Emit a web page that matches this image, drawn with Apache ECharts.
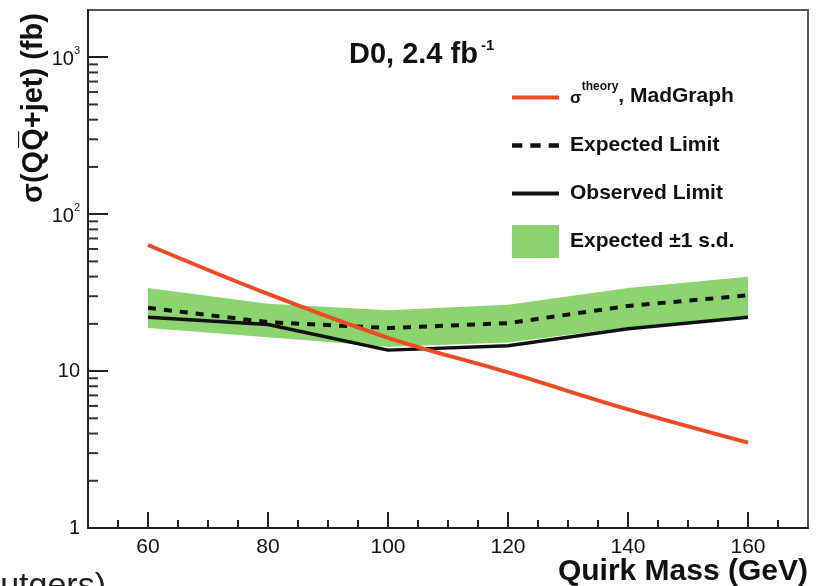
<!DOCTYPE html>
<html>
<head>
<meta charset="utf-8">
<script src="https://cdn.jsdelivr.net/npm/echarts@6/dist/echarts.min.js"></script>
<style>
html,body{margin:0;padding:0;background:#fff;}
#c{width:821px;height:586px;}
</style>
</head>
<body>
<div id="c"></div>
<script>
// ---- data ----
var mass = [60, 80, 100, 120, 140, 160];
var theory = [63.6, 31.0, 16.3, 9.8, 5.7, 3.5];
var expected = [25.3, 20.5, 18.8, 20.2, 26.0, 30.4];
var observed = [22.0, 19.8, 13.6, 14.5, 18.6, 22.0];
var bandLow = [18.8, 16.4, 14.3, 15.2, 19.0, 22.5];
var bandHigh = [33.9, 26.9, 24.4, 26.5, 33.8, 39.9];
var xTickLabels = [60, 80, 100, 120, 140, 160];
var yMinorTicks = [2,3,4,5,6,7,8,9,20,30,40,50,60,70,80,90,200,300,400,500,600,700,800,900];

var FONT = 'Liberation Sans, Arial, Helvetica, sans-serif';
var chart = echarts.init(document.getElementById('c'), null, {renderer: 'canvas'});

function pairs(ys) { return mass.map(function (m, i) { return [m, ys[i]]; }); }

var SOLID_ICON = 'path://M0,0H47V4H0Z';
var DASH_ICON = 'path://M0,0H9V4H0Z M16,0H25V4H16Z M32,0H41V4H32Z';

var option = {
  animation: false,
  backgroundColor: '#fff',
  title: {
    text: '{a|D0, 2.4 fb}{s|-1}',
    left: 344, top: 33,
    textStyle: {
      fontFamily: FONT,
      rich: {
        a: {fontSize: 29, fontWeight: 'bold', color: '#111', fontFamily: FONT, lineHeight: 33},
        s: {fontSize: 15, fontWeight: 'bold', color: '#111', fontFamily: FONT, verticalAlign: 'top', lineHeight: 15, padding: [0, 0, 0, 3]}
      }
    }
  },
  legend: {
    orient: 'vertical',
    left: 507, top: 76,
    itemWidth: 47, itemHeight: 33, itemGap: 15,
    data: [
      {name: 'theory', icon: SOLID_ICON},
      {name: 'Expected Limit', icon: DASH_ICON},
      {name: 'Observed Limit', icon: SOLID_ICON},
      {name: 'Expected \u00b11 s.d.', icon: 'rect'}
    ],
    formatter: function (name) {
      if (name === 'theory') return '{s|\u03c3}{t|theory}{m|, MadGraph}';
      return name;
    },
    textStyle: {
      fontFamily: FONT, fontSize: 21, fontWeight: 'bold', color: '#111',
      lineHeight: 33, height: 33,
      padding: [0, 0, 0, 6],
      rich: {
        s: {fontSize: 17, fontFamily: FONT, color: '#111', verticalAlign: 'bottom', lineHeight: 26},
        t: {fontSize: 12, fontFamily: FONT, color: '#111', verticalAlign: 'top', lineHeight: 26},
        m: {fontSize: 21, fontWeight: 'bold', fontFamily: FONT, color: '#111', verticalAlign: 'bottom', lineHeight: 26}
      }
    }
  },
  grid: {
    left: 88, right: 13, top: 10, bottom: 58,
    outerBoundsMode: 'none', containLabel: false,
    show: true, borderColor: '#555', borderWidth: 2, backgroundColor: '#fff'
  },
  xAxis: {
    type: 'value', min: 50, max: 170, interval: 5,
    axisLine: {show: true, onZero: false, lineStyle: {color: '#222', width: 2}},
    axisTick: {show: true, inside: true, length: 8, lineStyle: {color: '#222', width: 2}},
    splitLine: {show: false},
    axisLabel: {
      margin: 9, fontFamily: FONT, fontSize: 21, color: '#111',
      showMinLabel: false, showMaxLabel: false,
      formatter: function (v) { return xTickLabels.indexOf(v) >= 0 ? String(v) : ''; }
    }
  },
  yAxis: {
    type: 'log', logBase: 10, min: 1, max: 2000, interval: 1,
    axisLine: {show: true, lineStyle: {color: '#222', width: 2}},
    axisTick: {show: true, inside: true, length: 20, lineStyle: {color: '#222', width: 2}},
    splitLine: {show: false},
    axisLabel: {
      margin: 8, fontFamily: FONT, fontSize: 20, color: '#111', showMaxLabel: false,
      formatter: function (v) {
        var e = Math.round(Math.log(v) / Math.LN10);
        if (e === 0) return '1';
        if (e === 1) return '10';
        return '{b|10}{e|' + e + '}';
      },
      rich: {
        b: {fontFamily: FONT, fontSize: 20, color: '#111', verticalAlign: 'bottom', lineHeight: 24},
        e: {fontFamily: FONT, fontSize: 11, color: '#111', verticalAlign: 'top', lineHeight: 24}
      }
    }
  },
  graphic: [
    {
      type: 'text', x: 34, y: 108, rotation: Math.PI / 2,
      style: {
        text: '\u03c3(QQ\u0305+jet) (fb)',
        fontFamily: FONT, fontSize: 29, fontWeight: 'bold', fill: '#111',
        textAlign: 'center', textVerticalAlign: 'middle'
      }
    },
    {
      type: 'text', x: 808, y: 572,
      style: {
        text: 'Quirk Mass (GeV)',
        fontFamily: FONT, fontSize: 30, fontWeight: 'bold', fill: '#111',
        textAlign: 'right', textVerticalAlign: 'middle'
      }
    },
    {
      type: 'text', x: 106, y: 570,
      style: {
        text: 'Rutgers)', fontFamily: FONT, fontSize: 34, fill: '#222',
        textAlign: 'right', textVerticalAlign: 'top'
      }
    }
  ],
  series: [
    {
      type: 'custom', name: 'Expected \u00b11 s.d.', coordinateSystem: 'cartesian2d',
      z: 1, silent: true,
      itemStyle: {color: '#8bd470'},
      encode: {x: 0, y: [1, 2]},
      data: mass.map(function (m, i) { return [m, bandLow[i], bandHigh[i]]; }),
      renderItem: function (params, api) {
        if (params.dataIndex !== 0) return null;
        var pts = [], i;
        for (i = 0; i < mass.length; i++) pts.push(api.coord([mass[i], bandHigh[i]]));
        for (i = mass.length - 1; i >= 0; i--) pts.push(api.coord([mass[i], bandLow[i]]));
        return {type: 'polygon', shape: {points: pts}, style: {fill: '#8bd470'}};
      }
    },
    {
      type: 'line', name: 'theory', data: pairs(theory), smooth: 0.35,
      symbol: 'none', z: 4,
      itemStyle: {color: '#ef4a24'},
      lineStyle: {color: '#ef4a24', width: 4}
    },
    {
      type: 'line', name: 'Expected Limit', data: pairs(expected),
      symbol: 'none', z: 3,
      itemStyle: {color: '#111'},
      lineStyle: {color: '#111', width: 4, type: [8, 8]}
    },
    {
      type: 'line', name: 'Observed Limit', data: pairs(observed),
      symbol: 'none', z: 3,
      itemStyle: {color: '#111'},
      lineStyle: {color: '#111', width: 3.5}
    },
    {
      type: 'custom', name: 'yMinor', silent: true, z: 5,
      data: yMinorTicks.map(function (v) { return [50, v]; }),
      renderItem: function (params, api) {
        var p = api.coord([50, api.value(1)]);
        return {type: 'line', shape: {x1: p[0], y1: p[1], x2: p[0] + 10, y2: p[1]},
                style: {stroke: '#333', lineWidth: 2}};
      }
    },
    {
      type: 'custom', name: 'xMajor', silent: true, z: 5,
      data: xTickLabels.map(function (v) { return [v, 1]; }),
      renderItem: function (params, api) {
        var p = api.coord([api.value(0), 1]);
        return {type: 'line', shape: {x1: p[0], y1: p[1], x2: p[0], y2: p[1] - 16},
                style: {stroke: '#222', lineWidth: 2}};
      }
    }
  ]
};
chart.setOption(option);
</script>
</body>
</html>
